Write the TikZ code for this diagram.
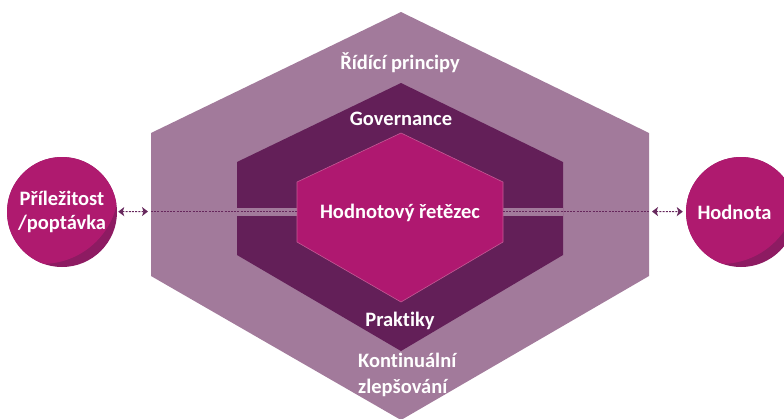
\documentclass[tikz,border=0pt]{standalone}
\usepackage{fontspec}
\setmainfont[Ligatures=NoCommon]{Carlito}
\usetikzlibrary{arrows.meta}
\definecolor{outerc}{HTML}{A27A9B}
\definecolor{midc}{HTML}{631F58}
\definecolor{innerc}{HTML}{AF1870}
\definecolor{innerbd}{HTML}{C45A95}
\definecolor{circlight}{HTML}{AF1A6F}
\definecolor{circdark}{HTML}{8D1B62}
\definecolor{linec}{HTML}{66275C}
\tikzset{
  lbl/.style={text=white, font=\fontsize{20.5}{26}\selectfont\bfseries, inner sep=0pt},
  circnode/.style={circle, minimum size=110pt, inner sep=0pt, align=center, text=white, font=\fontsize{20.5}{24}\selectfont\bfseries},
  dotline/.style={draw=linec, line width=1.1pt, dash pattern=on 2pt off 1.2pt},
  dblarrow/.style={dotline, {Stealth[length=6pt,width=9pt,inset=1.5pt]}-{Stealth[length=6pt,width=9pt,inset=1.5pt]}}
}
\begin{document}
\begin{tikzpicture}[x=1pt,y=-1pt]
\useasboundingbox (0,0) rectangle (784,418);
\clip (0,0) rectangle (784,418);
% hexagons
\fill[outerc] (401,12) -- (649,133) -- (649,276) -- (401,420) -- (151,276) -- (151,133) -- cycle;
\fill[midc] (401,83) -- (563,162) -- (563,255) -- (401,351) -- (237,255) -- (237,162) -- cycle;
\fill[outerc] (237,207.5) rectangle (563,215.5);
\fill[innerc, draw=innerbd, line width=0.6pt] (401,133) -- (503,182) -- (503,242) -- (401,302) -- (297,242) -- (297,182) -- cycle;
% coordinates on hexagon sides
\coordinate (ol) at (151,211.5);
\coordinate (or) at (649,211.5);
\coordinate (il) at (297,211.5);
\coordinate (ir) at (503,211.5);
% circles
\fill[circdark] (62,212) circle [radius=55];
\begin{scope}
\clip (62,212) circle [radius=55];
\fill[circlight] (42.2,187.4) circle [radius=76.5];
\end{scope}
\fill[circdark] (741,212) circle [radius=55];
\begin{scope}
\clip (741,212) circle [radius=55];
\fill[circlight] (721.2,187.4) circle [radius=76.5];
\end{scope}
\node[circnode] (lc) at (62,212) {Příležitost\\/poptávka};
\node[circnode] (rc) at (741,212) {};
\node[lbl] (rt) at (734.5,212) {Hodnota};
% connectors
\draw[dblarrow, shorten <=1pt, shorten >=3pt] (lc) -- (ol);
\draw[dotline] (ol) -- (il);
\draw[dotline] (ir) -- (or);
\draw[dblarrow, shorten <=3pt, shorten >=3pt] (or) -- (rc);
% labels
\node[lbl, anchor=base] (t1) at (400,69) {Řídící principy};
\node[lbl, anchor=base] (t2) at (401,125) {Governance};
\node[lbl, anchor=base] (t3) at (400,218.5) {Hodnotový řetězec};
\node[lbl, anchor=base] (t4) at (400,326) {Praktiky};
\node[lbl, anchor=base west] (t5) at (358,367.5) {Kontinuální};
\node[lbl, anchor=base west] (t6) at (358,393.5) {zlepšování};
\end{tikzpicture}
\end{document}
